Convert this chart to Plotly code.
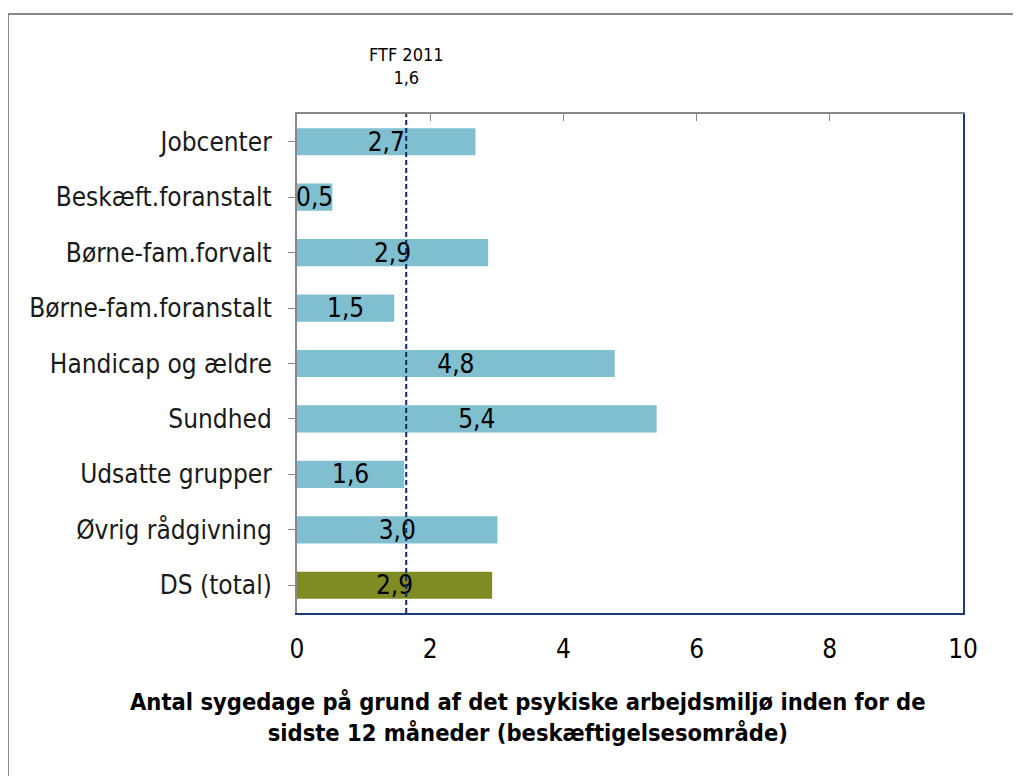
import plotly.graph_objects as go

categories = ["Jobcenter", "Beskæft.foranstalt", "Børne-fam.forvalt", "Børne-fam.foranstalt",
              "Handicap og ældre", "Sundhed", "Udsatte grupper", "Øvrig rådgivning", "DS (total)"]
values = [2.68, 0.53, 2.87, 1.46, 4.77, 5.40, 1.61, 3.01, 2.93]
colors = ["#7fbfcf"] * 8 + ["#7f8c23"]
ftf_value = 1.64
ftf_label = "FTF 2011"
x_ticks = [0, 2, 4, 6, 8, 10]

FONT = "DejaVu Sans Condensed, DejaVu Sans, sans-serif"
NAVY = "#1f3a7a"
DASHNAVY = "#0d2b6b"
GRAY = "#888888"

labels = [f"{v:.1f}".replace(".", ",") for v in values]

# screen coordinates of plot area (page has 8px body margin)
PL, PR, PT, PB = 297, 963, 114, 613
PW, PH = PR - PL, PB - PT

fig = go.Figure()
fig.add_trace(go.Bar(
    y=categories, x=values, orientation="h",
    marker=dict(color=colors, line=dict(width=0)),
    text=labels, textposition="inside", insidetextanchor="middle",
    textfont=dict(family=FONT, size=26, color="#000000"),
    constraintext="none", cliponaxis=False, width=0.49,
    hoverinfo="skip",
))
fig.add_trace(go.Scatter(
    x=[ftf_value, ftf_value], y=[0, 1], xaxis="x2", yaxis="y2",
    mode="lines", line=dict(color=DASHNAVY, width=2, dash="5px,3px"),
    hoverinfo="skip",
))

fig.update_layout(
    width=1021, height=776,
    margin=dict(l=PL - 8, r=1021 + 8 - PR, t=PT - 8, b=776 + 8 - PB),
    paper_bgcolor="white", plot_bgcolor="white",
    showlegend=False,
    font=dict(family=FONT, size=26, color="#000000"),
    xaxis=dict(range=[0, 10], tickvals=x_ticks, ticktext=[str(t) for t in x_ticks],
               showline=True, linecolor=NAVY, linewidth=2, ticks="",
               showgrid=False, zeroline=False, ticklabelstandoff=12,
               tickfont=dict(family=FONT, size=26, color="#000000")),
    xaxis2=dict(range=[0, 10], overlaying="x", side="top", tickvals=x_ticks,
                showline=True, linecolor=GRAY, linewidth=2, ticks="inside",
                ticklen=7, tickwidth=1, tickcolor=GRAY, showticklabels=False,
                showgrid=False, zeroline=False),
    yaxis=dict(categoryorder="array", categoryarray=categories, autorange="reversed",
               showline=True, linecolor=GRAY, linewidth=2, ticks="outside",
               ticklen=7, tickcolor=GRAY, tickwidth=1, showgrid=False,
               ticklabelstandoff=11,
               tickfont=dict(family=FONT, size=26, color="#1a1a1a")),
    yaxis2=dict(range=[0, 1], overlaying="y", side="right", showline=True,
                linecolor=NAVY, linewidth=2, showticklabels=False, ticks="",
                showgrid=False, zeroline=False),
)

fig.add_annotation(xref="x", yref="paper", x=ftf_value, y=1.0, yshift=24,
                   text=f"{ftf_label}<br>{ftf_value:.1f}".replace(".", ","),
                   showarrow=False, font=dict(family=FONT, size=18, color="#000000"),
                   xanchor="center", yanchor="bottom", align="center")

fig.add_annotation(xref="paper", yref="paper", x=(528 - PL) / PW, y=(PB - 718) / PH,
                   text="<b>Antal sygedage på grund af det psykiske arbejdsmiljø inden for de<br>"
                        "sidste 12 måneder (beskæftigelsesområde)</b>",
                   showarrow=False, font=dict(family=FONT, size=23.5, color="#000000"),
                   xanchor="center", yanchor="middle", align="center")

fig.add_shape(type="rect", xref="paper", yref="paper",
              x0=(8 - PL) / PW, x1=(1020 - PL) / PW,
              y0=(PB - 790) / PH, y1=(PB - 14) / PH,
              line=dict(color=GRAY, width=2), fillcolor="rgba(0,0,0,0)", layer="below")

fig.write_html("out.html")
